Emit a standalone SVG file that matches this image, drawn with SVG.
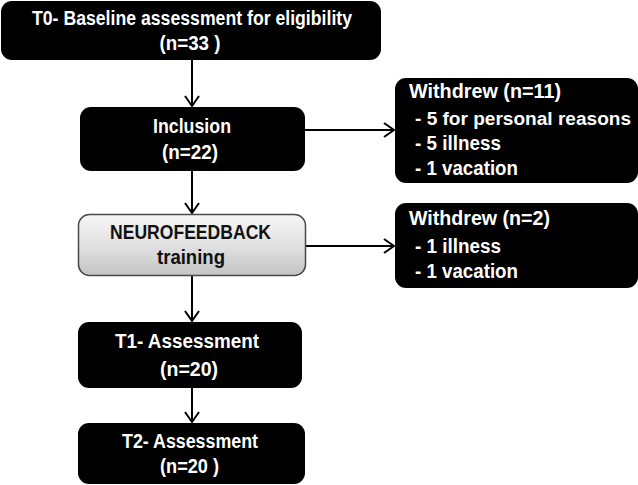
<svg xmlns="http://www.w3.org/2000/svg" width="638" height="485" viewBox="0 0 638 485">
<style>
.box{fill:#000;}
.t{font-family:"Liberation Sans",Arial,sans-serif;font-weight:bold;font-size:20px;fill:#fff;}
.c{text-anchor:middle;}
.d{fill:#111;}
.conn{stroke:#000;stroke-width:2;fill:none;marker-end:url(#ah);}
</style>
<defs>
<marker id="ah" viewBox="0 0 12 16" refX="11" refY="8" markerWidth="12" markerHeight="16" markerUnits="userSpaceOnUse" orient="auto">
<polyline points="1,1 11,8 1,15" fill="none" stroke="#000" stroke-width="2"/>
</marker>
<linearGradient id="gg" x1="0" y1="0" x2="0" y2="1">
<stop offset="0" stop-color="#f6f6f6"/>
<stop offset="0.5" stop-color="#e2e2e2"/>
<stop offset="1" stop-color="#c4c4c4"/>
</linearGradient>
</defs>
<g id="connectors">
<line class="conn" x1="192" y1="60" x2="192" y2="106"/>
<line class="conn" x1="305" y1="130" x2="394" y2="130"/>
<line class="conn" x1="192" y1="171" x2="192" y2="213"/>
<line class="conn" x1="306" y1="246" x2="394" y2="246"/>
<line class="conn" x1="192" y1="276" x2="192" y2="321"/>
<line class="conn" x1="192" y1="388" x2="192" y2="422"/>
</g>
<g id="t0">
<rect class="box" x="1" y="1" width="380" height="59" rx="11"/>
<text class="t c" x="192" y="25" textLength="320" lengthAdjust="spacingAndGlyphs">T0- Baseline assessment for eligibility</text>
<text class="t c" x="190" y="50" textLength="61" lengthAdjust="spacingAndGlyphs">(n=33 )</text>
</g>
<g id="inclusion">
<rect class="box" x="80" y="107" width="225" height="64" rx="11"/>
<text class="t c" x="192" y="133" textLength="78" lengthAdjust="spacingAndGlyphs">Inclusion</text>
<text class="t c" x="190" y="159" textLength="56" lengthAdjust="spacingAndGlyphs">(n=22)</text>
</g>
<g id="neurofeedback">
<rect x="78.5" y="214.5" width="227" height="61" rx="11" fill="url(#gg)" stroke="#4a4a4a" stroke-width="1.5"/>
<text class="t c d" x="190.5" y="239" textLength="161" lengthAdjust="spacingAndGlyphs">NEUROFEEDBACK</text>
<text class="t c d" x="191" y="264" textLength="68" lengthAdjust="spacingAndGlyphs">training</text>
</g>
<g id="withdrew1">
<rect class="box" x="395" y="78" width="243" height="105" rx="11"/>
<text class="t" x="409" y="98" textLength="152" lengthAdjust="spacingAndGlyphs">Withdrew (n=11)</text>
<text class="t" x="415" y="125" font-size="18.8" style="font-size:18.8px" textLength="216" lengthAdjust="spacingAndGlyphs">- 5 for personal reasons</text>
<text class="t" x="415" y="150" textLength="86" lengthAdjust="spacingAndGlyphs">- 5 illness</text>
<text class="t" x="415" y="175" textLength="103" lengthAdjust="spacingAndGlyphs">- 1 vacation</text>
</g>
<g id="withdrew2">
<rect class="box" x="395" y="203" width="243" height="85" rx="11"/>
<text class="t" x="409" y="225" textLength="141" lengthAdjust="spacingAndGlyphs">Withdrew (n=2)</text>
<text class="t" x="415" y="253" textLength="86" lengthAdjust="spacingAndGlyphs">- 1 illness</text>
<text class="t" x="415" y="278" textLength="103" lengthAdjust="spacingAndGlyphs">- 1 vacation</text>
</g>
<g id="t1">
<rect class="box" x="78" y="322" width="224" height="66" rx="11"/>
<text class="t c" x="187" y="348" textLength="144" lengthAdjust="spacingAndGlyphs">T1- Assessment</text>
<text class="t c" x="189" y="376" textLength="58" lengthAdjust="spacingAndGlyphs">(n=20)</text>
</g>
<g id="t2">
<rect class="box" x="78" y="423" width="227" height="61" rx="11"/>
<text class="t c" x="190" y="448" textLength="136" lengthAdjust="spacingAndGlyphs">T2- Assessment</text>
<text class="t c" x="189.5" y="473" textLength="59" lengthAdjust="spacingAndGlyphs">(n=20 )</text>
</g>
</svg>
